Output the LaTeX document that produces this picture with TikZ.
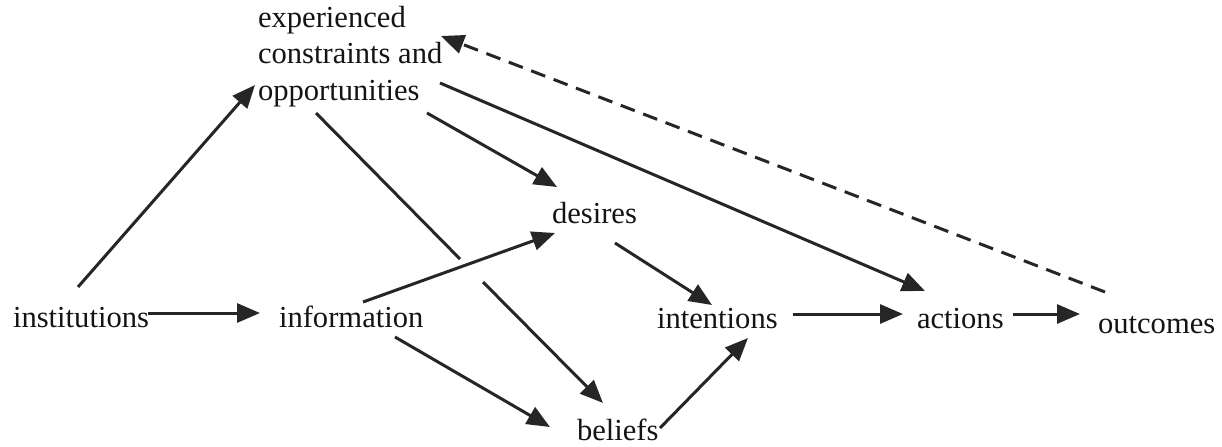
\documentclass[tikz,border=0pt]{standalone}
\usepackage{fontspec}
\setmainfont{Liberation Serif}
\usetikzlibrary{arrows.meta}
\begin{document}
\begin{tikzpicture}[x=0.5pt,y=-0.5pt,
  lbl/.style={inner sep=0pt,outer sep=0pt,anchor=base west,font=\fontsize{15.3}{18.25}\selectfont,text=black!92},
  arr/.style={draw=black!85,line width=1.5pt,-{Triangle[length=11.5pt,width=9.5pt]}},
  plain/.style={draw=black!85,line width=1.5pt},
  dsh/.style={draw=black!85,line width=1.5pt,dash pattern=on 7.5pt off 4.5pt,-{Triangle[length=11.5pt,width=9.5pt]}}]
\useasboundingbox (0,0) rectangle (1222,446);
\node[lbl] (inst) at (13,327) {institutions};
\node[lbl] (info) at (279,327) {information};
\node[lbl] (des) at (552,223) {desires};
\node[lbl] (bel) at (577,440) {beliefs};
\node[lbl] (int) at (657,328) {intentions};
\node[lbl] (act) at (917,328) {actions};
\node[lbl] (out) at (1098,333) {outcomes};
\node[lbl,anchor=north west,align=left] (opp) at (258,6) {experienced\\constraints and\\opportunities};
\coordinate (g1) at (460,259);
\coordinate (g2) at (483,282);
% connectors
\draw[arr] ([shift={(65,-40)}]inst.base west) -- ([shift={(-3,79)}]opp.north west);
\draw[arr] ([shift={(135,-14)}]inst.base west) -- ([shift={(-19,-14)}]info.base west);
\draw[arr] ([shift={(84,-25)}]info.base west) -- ([shift={(3,10)}]des.base west);
\draw[arr] ([shift={(116,10)}]info.base west) -- ([shift={(-27,-13)}]bel.base west);
\draw[plain] ([shift={(58,107)}]opp.north west) -- (g1);
\draw[arr] (g2) -- ([shift={(26,-37)}]bel.base west);
\draw[arr] ([shift={(169,107)}]opp.north west) -- ([shift={(5,-36)}]des.base west);
\draw[arr] ([shift={(182,77)}]opp.north west) -- ([shift={(8,-37)}]act.base west);
\draw[arr] ([shift={(63,20)}]des.base west) -- ([shift={(55,-23)}]int.base west);
\draw[arr] ([shift={(83,-12)}]bel.base west) -- ([shift={(91,10)}]int.base west);
\draw[arr] ([shift={(136,-14)}]int.base west) -- ([shift={(-14,-14)}]act.base west);
\draw[arr] ([shift={(96,-14)}]act.base west) -- ([shift={(-18,-19)}]out.base west);
\draw[dsh] ([shift={(7,-41)}]out.base west) -- ([shift={(183,30)}]opp.north west);
\end{tikzpicture}
\end{document}
